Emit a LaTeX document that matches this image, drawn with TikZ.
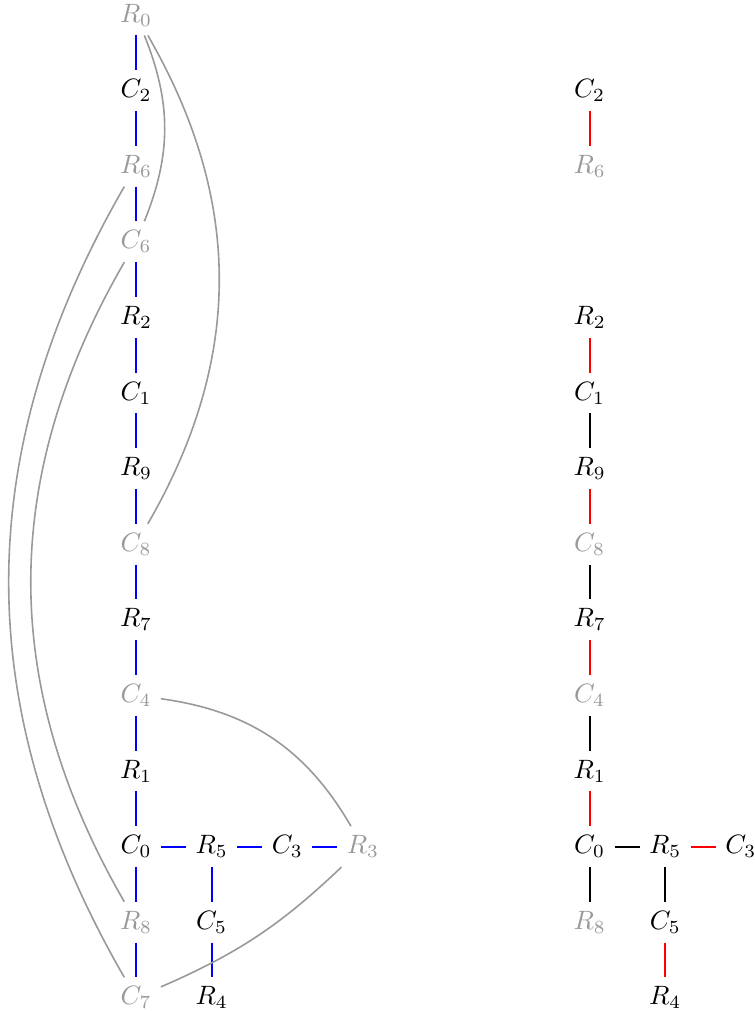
\documentclass[tikz,border=0pt]{standalone}
\begin{document}
\begin{tikzpicture}[x=1cm,y=1cm,
  nd/.style={inner sep=0.333em},
  faded/.style={nd,text=black!40},
  bl/.style={blue,thick},
  rd/.style={red,thick},
  bk/.style={black,thick},
  arc/.style={black!40,semithick}]
\useasboundingbox (-1.80,0.198) rectangle (8.174,-13.188);
% left graph
\node[faded] (lR0) at (0,0) {$R_0$};
\node[nd] (lC2) at (0,-1) {$C_2$};
\node[faded] (lR6) at (0,-2) {$R_6$};
\node[faded] (lC6) at (0,-3) {$C_6$};
\node[nd] (lR2) at (0,-4) {$R_2$};
\node[nd] (lC1) at (0,-5) {$C_1$};
\node[nd] (lR9) at (0,-6) {$R_9$};
\node[faded] (lC8) at (0,-7) {$C_8$};
\node[nd] (lR7) at (0,-8) {$R_7$};
\node[faded] (lC4) at (0,-9) {$C_4$};
\node[nd] (lR1) at (0,-10) {$R_1$};
\node[nd] (lC0) at (0,-11) {$C_0$};
\node[faded] (lR8) at (0,-12) {$R_8$};
\node[faded] (lC7) at (0,-13) {$C_7$};
\node[nd] (lR5) at (1,-11) {$R_5$};
\node[nd] (lC3) at (2,-11) {$C_3$};
\node[faded] (lR3) at (3,-11) {$R_3$};
\node[nd] (lC5) at (1,-12) {$C_5$};
\node[nd] (lR4) at (1,-13) {$R_4$};
\draw[bl] (lR0) -- (lC2);
\draw[bl] (lC2) -- (lR6);
\draw[bl] (lR6) -- (lC6);
\draw[bl] (lC6) -- (lR2);
\draw[bl] (lR2) -- (lC1);
\draw[bl] (lC1) -- (lR9);
\draw[bl] (lR9) -- (lC8);
\draw[bl] (lC8) -- (lR7);
\draw[bl] (lR7) -- (lC4);
\draw[bl] (lC4) -- (lR1);
\draw[bl] (lR1) -- (lC0);
\draw[bl] (lC0) -- (lR8);
\draw[bl] (lR8) -- (lC7);
\draw[bl] (lC0) -- (lR5);
\draw[bl] (lR5) -- (lC3);
\draw[bl] (lC3) -- (lR3);
\draw[bl] (lR5) -- (lC5);
\draw[bl] (lC5) -- (lR4);
\draw[arc] (lR0) to[bend left=22] (lC6);
\draw[arc] (lR0) to[bend left=30] (lC8);
\draw[arc] (lR6) to[bend right=30] (lC7);
\draw[arc] (lC6) to[bend right=30] (lR8);
\draw[arc] (lC4) to[bend left=26] (lR3);
\draw[arc] (lC7) to[bend right=10] (lR3);
% right graph
\node[nd] (rC2) at (6,-1) {$C_2$};
\node[faded] (rR6) at (6,-2) {$R_6$};
\node[nd] (rR2) at (6,-4) {$R_2$};
\node[nd] (rC1) at (6,-5) {$C_1$};
\node[nd] (rR9) at (6,-6) {$R_9$};
\node[faded] (rC8) at (6,-7) {$C_8$};
\node[nd] (rR7) at (6,-8) {$R_7$};
\node[faded] (rC4) at (6,-9) {$C_4$};
\node[nd] (rR1) at (6,-10) {$R_1$};
\node[nd] (rC0) at (6,-11) {$C_0$};
\node[faded] (rR8) at (6,-12) {$R_8$};
\node[nd] (rR5) at (7,-11) {$R_5$};
\node[nd] (rC3) at (8,-11) {$C_3$};
\node[nd] (rC5) at (7,-12) {$C_5$};
\node[nd] (rR4) at (7,-13) {$R_4$};
\draw[rd] (rC2) -- (rR6);
\draw[rd] (rR2) -- (rC1);
\draw[bk] (rC1) -- (rR9);
\draw[rd] (rR9) -- (rC8);
\draw[bk] (rC8) -- (rR7);
\draw[rd] (rR7) -- (rC4);
\draw[bk] (rC4) -- (rR1);
\draw[rd] (rR1) -- (rC0);
\draw[bk] (rC0) -- (rR8);
\draw[bk] (rC0) -- (rR5);
\draw[rd] (rR5) -- (rC3);
\draw[bk] (rR5) -- (rC5);
\draw[rd] (rC5) -- (rR4);
\end{tikzpicture}
\end{document}
